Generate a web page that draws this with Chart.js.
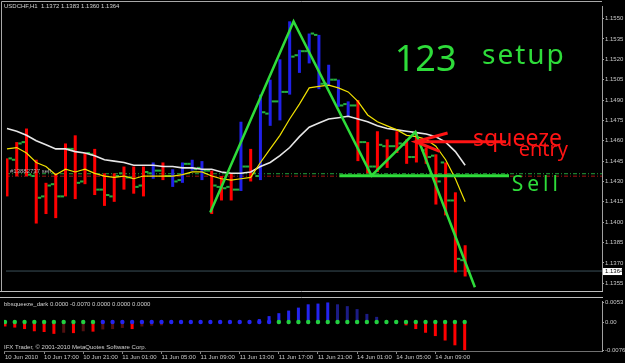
<!DOCTYPE html>
<html>
<head>
<meta charset="utf-8">
<title>USDCHF H1 – 123 setup</title>
<script src="https://cdn.jsdelivr.net/npm/chart.js@4.4.1/dist/chart.umd.min.js"></script>
<style>
  html, body { margin:0; padding:0; background:#000; overflow:hidden; }
  #wrap { position:relative; width:625px; height:363px; background:#000; }
  #c1 { position:absolute; left:0; top:0; width:625px; height:297px; }
  #c2 { position:absolute; left:0; top:297px; width:625px; height:66px; }
</style>
</head>
<body>
<div id="wrap">
  <canvas id="c1" width="625" height="297"></canvas>
  <canvas id="c2" width="625" height="66"></canvas>
</div>
<script>
// ================= DATA =================
const symbolTitle = 'USDCHF,H1  1.1372 1.1383 1.1360 1.1364';

const opens  = [1.1440,1.1446,1.1459,1.1434,1.1419,1.1428,1.1419,1.1454,1.1430,1.1450,1.1424,1.1419,1.1436,1.1433,1.1427,1.1436,1.1438,1.1434,1.1431,1.1443,1.1440,1.1438,1.1426,1.1426,1.1424,1.1441,1.1434,1.1480,1.1489,1.1496,1.1523,1.1526,1.1538,1.1502,1.1505,1.1487,1.1486,1.1459,1.1441,1.1456,1.1456,1.1457,1.1448,1.1453,1.1449,1.1444,1.1416,1.1372];
const highs  = [1.1447,1.1459,1.1469,1.1446,1.1429,1.1436,1.1458,1.1464,1.1451,1.1454,1.1436,1.1436,1.1441,1.1441,1.1441,1.1444,1.1444,1.1439,1.1444,1.1446,1.1445,1.1438,1.1434,1.1436,1.1474,1.1454,1.1494,1.1505,1.1520,1.1548,1.1527,1.1539,1.1538,1.1516,1.1505,1.1489,1.1490,1.1459,1.1467,1.1461,1.1467,1.1461,1.1466,1.1455,1.1450,1.1444,1.1422,1.1383];
const lows   = [1.1419,1.1434,1.1434,1.1399,1.1406,1.1403,1.1419,1.1417,1.1428,1.1420,1.1412,1.1415,1.1424,1.1421,1.1419,1.1432,1.1431,1.1426,1.1429,1.1438,1.1431,1.1406,1.1416,1.1416,1.1423,1.1430,1.1431,1.1471,1.1475,1.1494,1.1510,1.1517,1.1498,1.1501,1.1485,1.1478,1.1445,1.1436,1.1437,1.1440,1.1451,1.1443,1.1444,1.1443,1.1413,1.1405,1.1363,1.1360];
const closes = [1.1447,1.1458,1.1435,1.1418,1.1427,1.1419,1.1454,1.1429,1.1451,1.1424,1.1420,1.1434,1.1433,1.1426,1.1437,1.1438,1.1434,1.1430,1.1443,1.1439,1.1438,1.1427,1.1425,1.1424,1.1441,1.1436,1.1481,1.1489,1.1496,1.1522,1.1526,1.1539,1.1502,1.1505,1.1486,1.1486,1.1459,1.1441,1.1457,1.1456,1.1458,1.1448,1.1459,1.1448,1.1430,1.1416,1.1373,1.1364];
// 1 = bar painted blue (up state), 0 = red
const barUp  = [0,0,0,0,0,0,0,0,0,0,0,0,0,0,0,1,0,1,1,1,1,0,0,0,1,0,1,1,1,1,1,1,1,1,1,1,0,0,0,0,0,0,0,0,0,0,0,0];

const maFast = [1.1454,1.1455,1.1451,1.1444,1.1441,1.1435,1.1439,1.1437,1.1439,1.1436,1.1434,1.1433,1.1434,1.1432,1.1434,1.1434,1.1434,1.1434,1.1435,1.1437,1.1437,1.1434,1.1432,1.1431,1.1432,1.1433,1.1444,1.1454,1.1464,1.1476,1.1487,1.1499,1.1500,1.1501,1.1499,1.1496,1.1489,1.1479,1.1474,1.1471,1.1468,1.1464,1.1463,1.1461,1.1456,1.1446,1.1432,1.1415];
const maSlow = [1.1469,1.1467,1.1464,1.1460,1.1457,1.1454,1.1454,1.1452,1.1451,1.1449,1.1446,1.1445,1.1444,1.1442,1.1442,1.1442,1.1441,1.1441,1.1440,1.1440,1.1439,1.1439,1.1437,1.1436,1.1436,1.1437,1.1441,1.1444,1.1449,1.1455,1.1463,1.1470,1.1473,1.1476,1.1477,1.1478,1.1476,1.1474,1.1471,1.1469,1.1468,1.1467,1.1466,1.1465,1.1463,1.1459,1.1452,1.1442];

const priceTicks = [1.1550,1.1535,1.1520,1.1505,1.1490,1.1475,1.1460,1.1445,1.1430,1.1415,1.1400,1.1385,1.1370,1.1355];
const timeTickBars = [0,4,8,12,16,20,24,28,32,36,40,44];
const timeLabels = ['10 Jun 2010','10 Jun 17:00','10 Jun 21:00','11 Jun 01:00','11 Jun 05:00','11 Jun 09:00','11 Jun 13:00','11 Jun 17:00','11 Jun 21:00','14 Jun 01:00','14 Jun 05:00','14 Jun 09:00'];

// bbsqueeze_dark sub-window
const hist = [-0.0012,-0.0015,-0.0019,-0.0025,-0.0027,-0.0032,-0.0029,-0.0030,-0.0025,-0.0026,-0.0020,-0.0019,-0.0016,-0.0019,-0.0012,-0.0010,-0.0009,-0.0003,0,0,0,0,0,0,0,0.0002,0.0008,0.0016,0.0024,0.0031,0.0039,0.0048,0.0050,0.0053,0.0048,0.0043,0.0035,0.0022,0.0014,0,0,-0.0009,-0.0019,-0.0029,-0.0038,-0.0050,-0.0063,-0.0076];
const squeezeOn = [0,0,0,0,0,0,0,0,0,0,1,1,1,1,1,1,1,1,1,1,1,1,1,1,1,1,1,1,0,0,0,0,0,0,0,0,0,0,0,0,0,0,0,0,0,0,0,0];
const histTicks = [0.0053, 0, -0.0076];
const histTitle = 'bbsqueeze_dark 0.0000 -0.0070 0.0000 0.0000 0.0000';
const copyright = 'IFX Trader, \u00A9 2001-2010 MetaQuotes Software Corp.';

// objects on the chart (bar index, price)
const orderLabel = '#13882737 sell';
const orderLabelBar = 0.31;
const orderPriceA = 1.14357;
const orderPriceB = 1.14339;
const bidPrice = 1.1364;
const trendBars   = [20.85, 29.4, 37.4, 41.9, 48.0];
const trendPrices = [1.14071, 1.15479, 1.14343, 1.14664, 1.13521];
const sellLineBars = [34.1, 51.5];
const sellLinePrice = 1.14343;
const arrowHeadBars   = [45.2, 41.9, 44.4];
const arrowHeadPrices = [1.14657, 1.14593, 1.14521];
const arrowShaftBars  = [41.9, 51.2];
const arrowShaftPrice = 1.14593;
const noteTexts  = ['123', 'setup', 'squeeze', 'entry', 'Sell'];
const noteBars   = [39.78, 48.73, 47.81, 52.49, 51.78];
const notePrices = [1.15114, 1.15164, 1.14564, 1.14486, 1.14229];

// ================= CHART =================
const FONT = '"Liberation Sans", Arial, sans-serif';
const HAND = '"Noto Sans", "DejaVu Sans", sans-serif';
const GREEN_HAND = '#2edc3a';
const RED_HAND = '#ff1414';
const idx = opens.map((_, i) => i);
const xMin = -0.1017, xMax = 61.04;
const yMin = 1.134929, yMax = 1.155929;
const hMin = -0.007842, hMax = 0.005696;
const fullSpan = [xMin, xMax];

const mainDecor = {
  id: 'mainDecor',
  beforeDraw(chart) {
    const c = chart.ctx; c.save(); c.fillStyle = '#000'; c.fillRect(0, 0, chart.width, chart.height); c.restore();
  },
  afterDraw(chart) {
    const c = chart.ctx, a = chart.chartArea, x = chart.scales.x, y = chart.scales.y;
    c.save();
    // frame
    c.strokeStyle = '#a8a8a8'; c.lineWidth = 1;
    c.beginPath();
    c.moveTo(1.5, a.bottom); c.lineTo(1.5, 1.5); c.lineTo(a.right, 1.5);
    c.stroke();
    c.strokeStyle = '#bdbdbd';
    c.beginPath(); c.moveTo(0, a.bottom + 0.5); c.lineTo(a.right + 1, a.bottom + 0.5); c.stroke();
    // title
    c.font = '6px ' + FONT; c.fillStyle = '#d4d4d4'; c.textBaseline = 'middle'; c.textAlign = 'left';
    c.fillText(symbolTitle, 4, 6.5);
    // order label
    c.fillStyle = '#b4b4b4'; c.textBaseline = 'alphabetic';
    c.fillText(orderLabel, x.getPixelForValue(orderLabelBar), y.getPixelForValue(orderPriceA) - 1);
    // current price box
    const py = y.getPixelForValue(bidPrice);
    c.fillStyle = '#ffffff'; c.fillRect(a.right + 1, py - 3, 19, 7);
    c.fillStyle = '#000000'; c.textBaseline = 'middle';
    c.fillText(bidPrice.toFixed(4), a.right + 3, py + 0.5);
    // handwritten notes
    const fonts = ['36px ' + HAND, '28px ' + HAND, '23px ' + HAND, '20px ' + HAND, '21px ' + HAND];
    const colors = [GREEN_HAND, GREEN_HAND, RED_HAND, RED_HAND, GREEN_HAND];
    const spacing = ['0px', '2px', '0px', '0px', '4px'];
    c.textBaseline = 'alphabetic';
    noteTexts.forEach((t, k) => {
      c.font = fonts[k]; c.fillStyle = colors[k];
      if ('letterSpacing' in c) c.letterSpacing = spacing[k];
      c.fillText(t, x.getPixelForValue(noteBars[k]), y.getPixelForValue(notePrices[k]));
    });
    if ('letterSpacing' in c) c.letterSpacing = '0px';
    c.restore();
  }
};

const ctx1 = document.getElementById('c1').getContext('2d');
new Chart(ctx1, {
  type: 'bar',
  data: {
    datasets: [
      { type: 'line', order: 12, data: fullSpan.map(v => ({ x: v, y: bidPrice })), borderColor: '#3a5058', borderWidth: 1, pointRadius: 0 },
      { type: 'line', order: 11, data: fullSpan.map(v => ({ x: v, y: orderPriceA })), borderColor: '#23a03c', borderWidth: 1, borderDash: [4, 2, 1, 2], pointRadius: 0 },
      { type: 'line', order: 10, data: fullSpan.map(v => ({ x: v, y: orderPriceB })), borderColor: '#a01414', borderWidth: 1, borderDash: [4, 2, 1, 2], pointRadius: 0 },
      { type: 'bar', order: 9, data: idx.map(i => ({ x: i, y: [lows[i], highs[i]] })),
        backgroundColor: barUp.map(u => u ? '#2020e8' : '#ff0000'), borderWidth: 0, maxBarThickness: 3, grouped: false },
      { type: 'scatter', order: 8, data: idx.map(i => ({ x: i - 0.33, y: opens[i] })), pointStyle: 'line', pointRadius: 1.7, borderWidth: 2, borderColor: '#25b040', backgroundColor: '#25b040' },
      { type: 'scatter', order: 7, data: idx.map(i => ({ x: i + 0.33, y: closes[i] })), pointStyle: 'line', pointRadius: 1.7, borderWidth: 2, borderColor: '#25b040', backgroundColor: '#25b040' },
      { type: 'line', order: 6, data: idx.map(i => ({ x: i, y: maSlow[i] })), borderColor: '#e6e6e6', borderWidth: 1.6, pointRadius: 0, tension: 0 },
      { type: 'line', order: 5, data: idx.map(i => ({ x: i, y: maFast[i] })), borderColor: '#f2e200', borderWidth: 1.2, pointRadius: 0, tension: 0 },
      { type: 'line', order: 4, data: sellLineBars.map(b => ({ x: b, y: sellLinePrice })), borderColor: '#2edc3a', borderWidth: 3, pointRadius: 0 },
      { type: 'line', order: 3, data: trendBars.map((b, k) => ({ x: b, y: trendPrices[k] })), borderColor: '#2edc3a', borderWidth: 2.5, pointRadius: 0, tension: 0 },
      { type: 'line', order: 2, data: arrowHeadBars.map((b, k) => ({ x: b, y: arrowHeadPrices[k] })), borderColor: RED_HAND, borderWidth: 3, pointRadius: 0 },
      { type: 'line', order: 1, data: arrowShaftBars.map(b => ({ x: b, y: arrowShaftPrice })), borderColor: RED_HAND, borderWidth: 3, pointRadius: 0 }
    ]
  },
  options: {
    responsive: false, animation: false, devicePixelRatio: 1, events: [],
    layout: { padding: { left: 1, top: 2, right: 0, bottom: 1 } },
    plugins: { legend: { display: false }, tooltip: { enabled: false }, title: { display: false } },
    scales: {
      x: { type: 'linear', min: xMin, max: xMax, display: false, offset: false, grid: { offset: false } },
      y: {
        type: 'linear', position: 'right', min: yMin, max: yMax,
        afterBuildTicks: s => { s.ticks = priceTicks.map(v => ({ value: v })); },
        afterFit: s => { s.width = 23; s.paddingTop = 0; s.paddingBottom = 0; },
        grid: { drawOnChartArea: false, drawTicks: true, tickLength: 2, color: '#a0a0a0' },
        border: { display: true, color: '#a0a0a0' },
        ticks: { color: '#c8c8c8', font: { family: FONT, size: 6 }, padding: 1, autoSkip: false, callback: v => v.toFixed(4) }
      }
    }
  },
  plugins: [mainDecor]
});

// ---------- sub window ----------
const subDecor = {
  id: 'subDecor',
  beforeDraw(chart) {
    const c = chart.ctx; c.save(); c.fillStyle = '#000'; c.fillRect(0, 0, chart.width, chart.height); c.restore();
  },
  afterDraw(chart) {
    const c = chart.ctx, a = chart.chartArea;
    c.save();
    c.strokeStyle = '#bdbdbd'; c.lineWidth = 1;
    c.beginPath(); c.moveTo(0, 0.5); c.lineTo(a.right + 1, 0.5); c.stroke();
    c.font = '6px ' + FONT; c.fillStyle = '#d0d0d0'; c.textBaseline = 'middle'; c.textAlign = 'left';
    c.fillText(histTitle, 4, 7);
    c.fillText(copyright, 4, 50);
    c.restore();
  }
};

const histColors = hist.map((v, i) => {
  const p = i > 0 ? hist[i - 1] : 0;
  if (v > 0) return v >= p ? '#2424f0' : '#1c1c86';
  if (v < 0) return v <= p ? '#ff0000' : '#521010';
  return 'rgba(0,0,0,0)';
});

const ctx2 = document.getElementById('c2').getContext('2d');
new Chart(ctx2, {
  type: 'bar',
  data: {
    datasets: [
      { type: 'bar', order: 2, data: idx.map(i => ({ x: i, y: hist[i] })), backgroundColor: histColors, borderWidth: 0, maxBarThickness: 3, grouped: false },
      { type: 'scatter', order: 1, data: idx.map(i => ({ x: i, y: 0 })), pointRadius: 2.2, borderWidth: 0,
        pointBackgroundColor: squeezeOn.map(s => s ? '#2424f0' : '#22d040') }
    ]
  },
  options: {
    responsive: false, animation: false, devicePixelRatio: 1, events: [],
    layout: { padding: { left: 1, top: 1, right: 0, bottom: 0 } },
    plugins: { legend: { display: false }, tooltip: { enabled: false } },
    scales: {
      x: {
        type: 'linear', position: 'bottom', min: xMin, max: xMax, offset: false,
        afterBuildTicks: s => { s.ticks = timeTickBars.map(v => ({ value: v })); },
        afterFit: s => { s.height = 12; s.paddingLeft = 0; s.paddingRight = 0; },
        grid: { display: true, drawOnChartArea: false, drawTicks: true, tickLength: 3, color: '#8a8a8a', offset: false },
        border: { display: true, color: '#707070' },
        ticks: { align: 'start', color: '#c8c8c8', font: { family: FONT, size: 6 }, padding: 0, maxRotation: 0, minRotation: 0, autoSkip: false,
          callback: (v, i) => timeLabels[i] }
      },
      y: {
        type: 'linear', position: 'right', min: hMin, max: hMax,
        afterBuildTicks: s => { s.ticks = histTicks.map(v => ({ value: v })); },
        afterFit: s => { s.width = 23; s.paddingTop = 0; s.paddingBottom = 0; },
        grid: { drawOnChartArea: false, drawTicks: true, tickLength: 2, color: '#a0a0a0' },
        border: { display: true, color: '#a0a0a0' },
        ticks: { color: '#c8c8c8', font: { family: FONT, size: 6 }, padding: 1, autoSkip: false,
          callback: v => (v === 0 ? '0.00' : v.toFixed(4)) }
      }
    }
  },
  plugins: [subDecor]
});
</script>
</body>
</html>
